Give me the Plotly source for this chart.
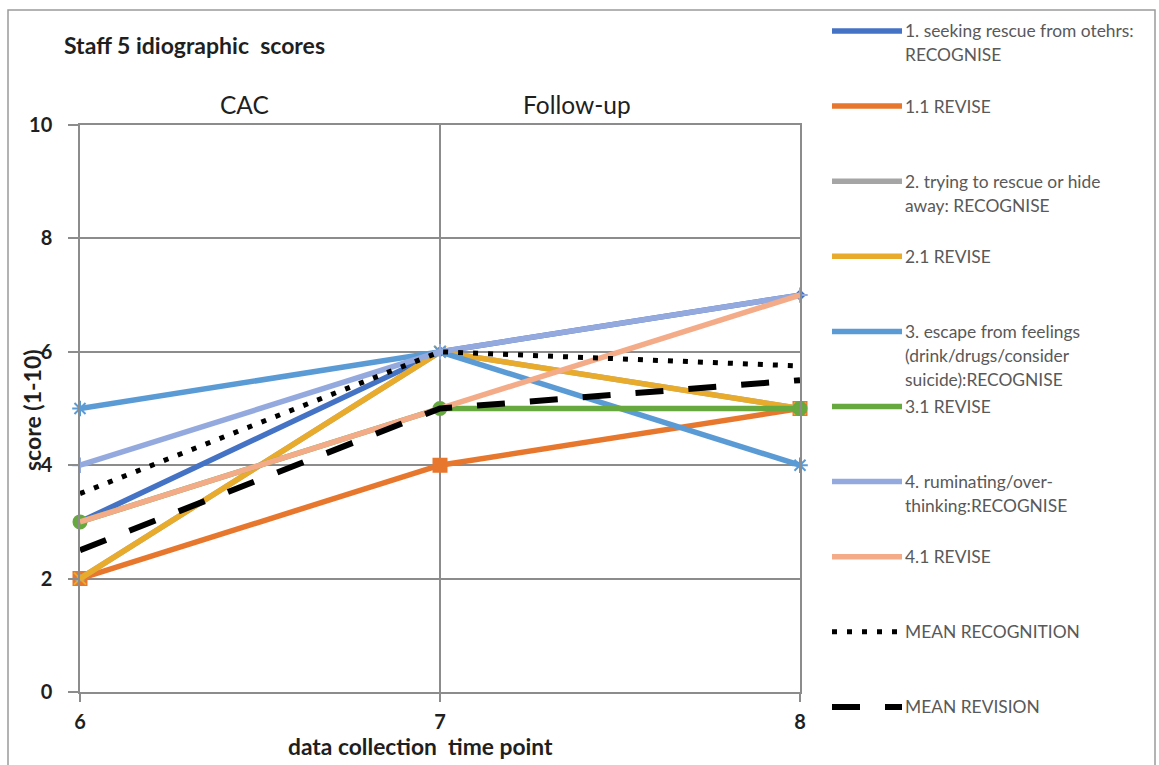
import plotly.graph_objects as go

# Time points and category headings
time_points = [6, 7, 8]
phase_labels = ["CAC", "Follow-up"]
y_ticks = [0, 2, 4, 6, 8, 10]

# Idiographic scores per item (recognise / revise)
seeking_rescue_recognise = [3, 6, 7]
seeking_rescue_revise = [2, 4, 5]
trying_rescue_recognise = [2, 6, 5]
trying_rescue_revise = [2, 6, 5]
escape_feelings_recognise = [5, 6, 4]
escape_feelings_revise = [3, 5, 5]
ruminating_recognise = [4, 6, 7]
ruminating_revise = [3, 5, 7]
mean_recognition = [3.5, 6, 5.75]
mean_revision = [2.5, 5, 5.5]

series_names = [
    "1. seeking rescue from otehrs:\nRECOGNISE",
    "1.1 REVISE",
    "2. trying to rescue or hide\naway: RECOGNISE",
    "2.1 REVISE",
    "3. escape from feelings\n(drink/drugs/consider\nsuicide):RECOGNISE",
    "3.1 REVISE",
    "4. ruminating/over-\nthinking:RECOGNISE",
    "4.1 REVISE",
    "MEAN RECOGNITION",
    "MEAN REVISION",
]
series_values = [
    seeking_rescue_recognise, seeking_rescue_revise,
    trying_rescue_recognise, trying_rescue_revise,
    escape_feelings_recognise, escape_feelings_revise,
    ruminating_recognise, ruminating_revise,
    mean_recognition, mean_revision,
]

# Visual style per series: colour, marker symbol, marker size, dash, width
styles = [
    ("#4472C4", "diamond", 7, "solid", 5.5),
    ("#E8772E", "square", 13, "solid", 5.5),
    ("#A5A5A5", "triangle-up", 7, "solid", 5.5),
    ("#E9AB2B", "x-thin-open", 12, "solid", 5.5),
    ("#5B9BD5", "asterisk-open", 13, "solid", 5.5),
    ("#67A83F", "circle", 13, "solid", 5.5),
    ("#94AADF", "cross-thin-open", 11, "solid", 5.5),
    ("#F4AB88", None, 0, "solid", 5.5),
    ("#000000", None, 0, "5px,10px", 5),
    ("#000000", None, 0, "28px,25px", 6),
]

FONT = "Lato, 'Open Sans', sans-serif"
GRID = "#8c8c8c"
DARK = "#1f1f1f"

fig = go.Figure()
for name, vals, (col, sym, msize, dash, width) in zip(series_names, series_values, styles):
    mode = "lines+markers" if sym else "lines"
    marker = dict(symbol=sym, size=msize, color=col,
                  line=dict(color=col, width=2)) if sym else None
    fig.add_trace(go.Scatter(
        x=time_points, y=vals, mode=mode, name=name.replace("\n", " "),
        line=dict(color=col, width=width, dash=dash),
        marker=marker, showlegend=False, cliponaxis=False,
    ))

# Plot frame geometry in pixels (used to convert legend/annotation positions)
W, H = 1159, 765
L, R, T, B = 80, 359, 125, 73
PW, PH = W - L - R, H - T - B


def px_x(x):
    return (x - L) / PW


def px_y(y):
    return (H - B - y) / PH


shapes = []
annotations = []

# Outer chart border
shapes.append(dict(type="rect", xref="paper", yref="paper",
                   x0=px_x(8), x1=px_x(1155), y0=px_y(800), y1=px_y(10),
                   line=dict(color="#9a9a9a", width=1.5), fillcolor="rgba(0,0,0,0)",
                   layer="below"))

# Legend on the right: a line sample and wrapped label per series
legend_top = 31
legend_step = 75.1
line_gap = 24
for i, (name, (col, sym, msize, dash, width)) in enumerate(zip(series_names, styles)):
    yc = legend_top + i * legend_step
    shapes.append(dict(type="line", xref="paper", yref="paper",
                       x0=px_x(832), x1=px_x(902), y0=px_y(yc), y1=px_y(yc),
                       line=dict(color=col, width=width, dash=dash)))
    for j, part in enumerate(name.split("\n")):
        annotations.append(dict(xref="paper", yref="paper", x=px_x(903),
                                y=px_y(yc + j * line_gap), xanchor="left", yanchor="middle",
                                text=part, showarrow=False,
                                font=dict(family=FONT, size=17.4, color="#595959")))

# Chart title
annotations.append(dict(xref="paper", yref="paper", x=px_x(62), y=px_y(45),
                        xanchor="left", yanchor="middle", showarrow=False,
                        text="Staff 5 idiographic  scores",
                        font=dict(family=FONT, size=23, color=DARK, weight="bold")))

# Phase headings above the plot
for label, xc in zip(phase_labels, [244, 577]):
    annotations.append(dict(xref="paper", yref="paper", x=px_x(xc), y=px_y(104),
                            xanchor="center", yanchor="middle", showarrow=False,
                            text=label, font=dict(family=FONT, size=24.5, color=DARK)))

# Axis titles
annotations.append(dict(xref="paper", yref="paper", x=px_x(420), y=px_y(746),
                        xanchor="center", yanchor="middle", showarrow=False,
                        text="data collection  time point",
                        font=dict(family=FONT, size=22.8, color=DARK, weight="bold")))
annotations.append(dict(xref="paper", yref="paper", x=px_x(32), y=px_y(410),
                        xanchor="center", yanchor="middle", showarrow=False, textangle=-90,
                        text="score (1-10)",
                        font=dict(family=FONT, size=23, color=DARK, weight="bold")))

axis_common = dict(showgrid=True, gridcolor=GRID, gridwidth=1.5, showline=True,
                   linecolor=GRID, linewidth=1.5, mirror=True, ticks="outside",
                   tickcolor=GRID, tickwidth=1.5, zeroline=False,
                   tickfont=dict(family=FONT, size=20, color=DARK, weight="bold"))

fig.update_layout(
    width=W, height=H, autosize=False,
    margin=dict(l=L, r=R, t=T, b=B, pad=0),
    paper_bgcolor="white", plot_bgcolor="white",
    xaxis=dict(range=[6, 8], tickvals=time_points, ticklen=8, ticklabelstandoff=3,
               **axis_common),
    yaxis=dict(range=[0, 10], tickvals=y_ticks, ticklen=10, ticklabelstandoff=12,
               **axis_common),
    shapes=shapes, annotations=annotations, showlegend=False,
)

fig.write_html("out.html")
